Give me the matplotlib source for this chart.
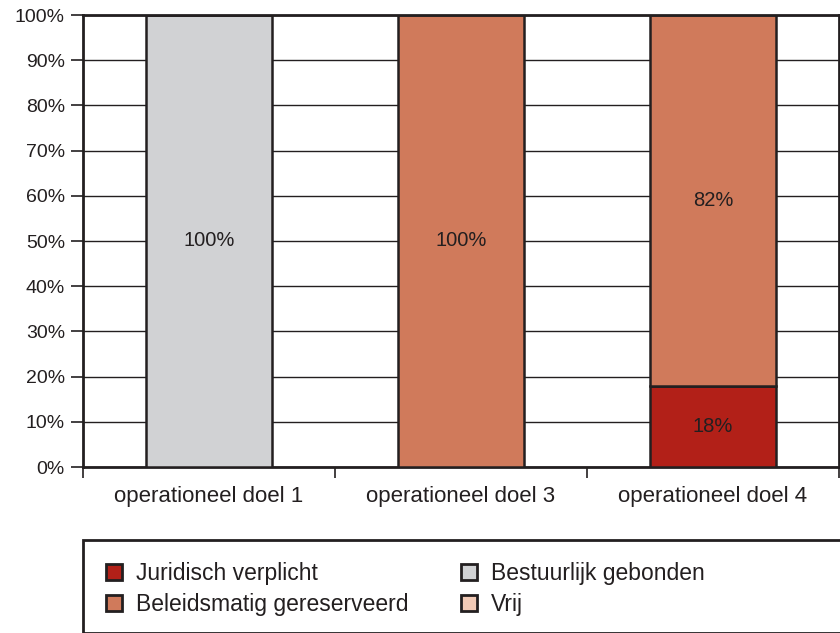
import numpy as np
import matplotlib.pyplot as plt
from matplotlib.patches import Patch, Rectangle

plt.rcParams['font.family'] = ['Liberation Sans', 'DejaVu Sans']

# Data
categories = ['operationeel doel 1', 'operationeel doel 3', 'operationeel doel 4']
juridisch = [0, 0, 18]
bestuurlijk = [100, 0, 0]
beleid = [0, 100, 82]
vrij = [0, 0, 0]

colors = {'Juridisch verplicht': '#b22018',
          'Bestuurlijk gebonden': '#d1d2d4',
          'Beleidsmatig gereserveerd': '#d07a5b',
          'Vrij': '#f2cab6'}
dark = '#231f20'

fig = plt.figure(figsize=(8.4, 6.33), dpi=100)
ax = fig.add_axes([83 / 840, 1 - 467 / 633, 756 / 840, 452 / 633])

x = np.arange(len(categories))
bottom = np.zeros(len(categories))
for name, vals in [('Juridisch verplicht', juridisch), ('Bestuurlijk gebonden', bestuurlijk),
                   ('Beleidsmatig gereserveerd', beleid), ('Vrij', vrij)]:
    vals = np.array(vals, dtype=float)
    ax.bar(x, vals, 0.5, bottom=bottom, color=colors[name], edgecolor=dark,
           linewidth=1.8, zorder=3)
    for xi, v, b in zip(x, vals, bottom):
        if v > 0:
            ax.text(xi, b + v / 2, f'{v:.0f}%', ha='center', va='center',
                    fontsize=14.5, color=dark, zorder=4)
    bottom += vals

ax.set_xlim(-0.5, 2.5)
ax.set_ylim(0, 100)
ax.set_yticks(np.arange(0, 101, 10))
ax.set_yticklabels([f'{v}%' for v in range(0, 101, 10)], fontsize=14, color=dark)
ax.yaxis.grid(True, color=dark, linewidth=1.0, zorder=0)
ax.set_axisbelow(True)
ax.tick_params(axis='y', length=9, width=1.2, color=dark, pad=4)

ax.set_xticks(x)
ax.set_xticklabels(categories, fontsize=16, color=dark)
ax.set_xticks([-0.5, 0.5, 1.5, 2.5], minor=True)
ax.tick_params(axis='x', which='major', length=0, pad=14)
ax.tick_params(axis='x', which='minor', length=8, width=1.2, color=dark)

for s in ax.spines.values():
    s.set_color(dark)
    s.set_linewidth(2)

# legend box
fig.patches.append(Rectangle((83 / 840, 0.0), 1, (633 - 540) / 633,
                             transform=fig.transFigure, fill=False,
                             edgecolor=dark, linewidth=2))
order = ['Juridisch verplicht', 'Beleidsmatig gereserveerd', 'Bestuurlijk gebonden', 'Vrij']
handles = [Patch(facecolor=colors[n], edgecolor=dark, linewidth=2) for n in order]
fig.legend(handles, order, loc='upper left', bbox_to_anchor=(106 / 840, 1 - 562 / 633),
           ncol=2, frameon=False, fontsize=16.5, handlelength=0.7, handleheight=0.7,
           handletextpad=0.6, labelspacing=0.35, columnspacing=2.3,
           labelcolor=dark, borderpad=0, borderaxespad=0)

fig.savefig('out.png', dpi=100)
